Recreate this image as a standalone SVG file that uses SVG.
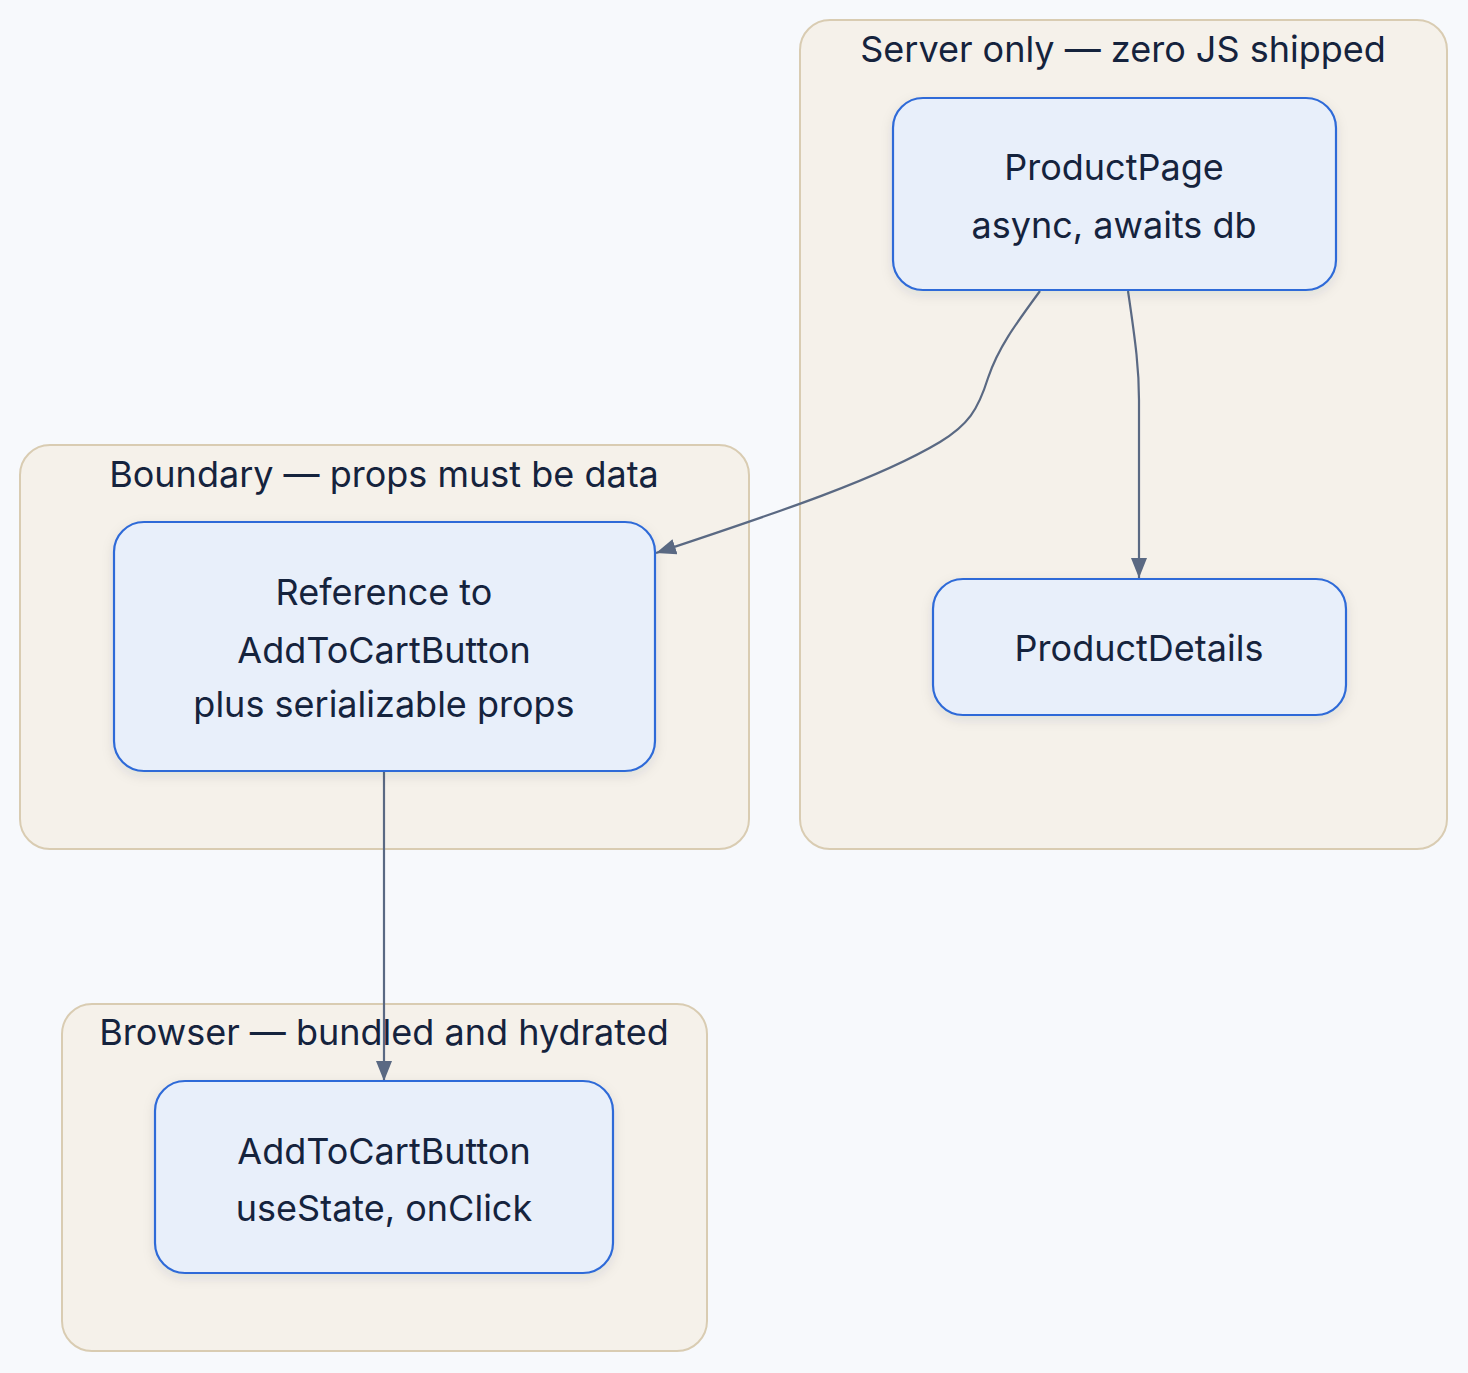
<svg xmlns="http://www.w3.org/2000/svg" width="1468" height="1373" viewBox="0 0 1468 1373">
<style>
.cluster{fill:#f5f1ea;stroke:#d9ccb2;stroke-width:2}
.node{fill:#e8effa;stroke:#2f6bd8;stroke-width:2.2}
.t{font-family:Inter,"Noto Sans",sans-serif;font-size:36px;fill:#15233d;text-anchor:middle}
.edge{fill:none;stroke:#5a6983;stroke-width:2.2}
</style>
<defs>
<marker id="arr" viewBox="0 0 20 16" refX="20" refY="8" markerWidth="20" markerHeight="16" markerUnits="userSpaceOnUse" orient="auto">
<path d="M0,0 L20,8 L0,16 z" fill="#5a6983"/>
</marker>
<filter id="sh" x="-10%" y="-10%" width="120%" height="130%">
<feDropShadow dx="0" dy="4" stdDeviation="6" flood-color="#1a2a4a" flood-opacity="0.10"/>
</filter>
</defs>
<rect width="1468" height="1373" fill="#f7f9fc"/>
<g id="cluster-server">
<rect class="cluster" x="800" y="20" width="647" height="829" rx="30"/>
<text class="t" x="1123" y="62">Server only — zero JS shipped</text>
</g>
<g id="cluster-boundary">
<rect class="cluster" x="20" y="445" width="729" height="404" rx="30"/>
<text class="t" x="384" y="487">Boundary — props must be data</text>
</g>
<g id="cluster-browser">
<rect class="cluster" x="62" y="1004" width="645" height="347" rx="30"/>
<text class="t" x="384" y="1045">Browser — bundled and hydrated</text>
</g>
<g id="connectors">
<path class="edge" d="M1040,291 C1015,325 998,348 988,378 C978,410 968,425 940,442 C880,478 780,512 656,553" marker-end="url(#arr)"/>
<path class="edge" d="M1128,291 C1136,345 1139,370 1139,400 L1139,578" marker-end="url(#arr)"/>
<path class="edge" d="M384,771 L384,1081" marker-end="url(#arr)"/>
</g>
<g id="node-productpage">
<rect class="node" x="893" y="98" width="443" height="192" rx="30" filter="url(#sh)"/>
<text class="t" x="1114" y="180">ProductPage</text>
<text class="t" x="1114" y="238">async, awaits db</text>
</g>
<g id="node-productdetails">
<rect class="node" x="933" y="579" width="413" height="136" rx="30" filter="url(#sh)"/>
<text class="t" x="1139" y="661">ProductDetails</text>
</g>
<g id="node-reference">
<rect class="node" x="114" y="522" width="541" height="249" rx="30" filter="url(#sh)"/>
<text class="t" x="384" y="605">Reference to</text>
<text class="t" x="384" y="663">AddToCartButton</text>
<text class="t" x="384" y="717">plus serializable props</text>
</g>
<g id="node-addtocart">
<rect class="node" x="155" y="1081" width="458" height="192" rx="30" filter="url(#sh)"/>
<text class="t" x="384" y="1164">AddToCartButton</text>
<text class="t" x="384" y="1221">useState, onClick</text>
</g>
</svg>
